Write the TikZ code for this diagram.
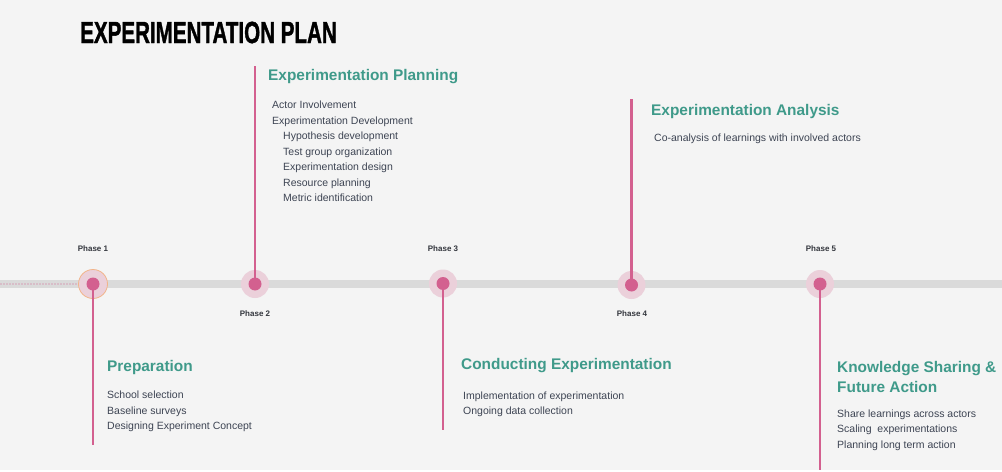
\documentclass[tikz,border=0pt]{standalone}
\usepackage{fontspec}
\setmainfont{Liberation Sans}
\newfontfamily\titlefont[UprightFont=* Bold,FakeBold=1.6]{Liberation Sans}
\usetikzlibrary{positioning}
\definecolor{bgcol}{HTML}{F4F4F4}
\definecolor{barcol}{HTML}{DADADA}
\definecolor{stemcol}{HTML}{D3608F}
\definecolor{halocol}{HTML}{EBD0DA}
\definecolor{ringcol}{HTML}{F2B48A}
\definecolor{headcol}{HTML}{3F9A8A}
\definecolor{txtcol}{HTML}{3D4453}
\definecolor{lblcol}{HTML}{33363D}

\begin{document}
\begin{tikzpicture}[x=1pt,y=-1pt,
        halo/.style={circle,fill=halocol,minimum size=28pt,inner sep=0pt},
        dot/.style={circle,fill=stemcol,minimum size=13pt,inner sep=0pt},
        stem/.style={draw=stemcol,line width=2.2pt},
        lead/.style={draw=stemcol,line width=1.4pt,line cap=round,dash pattern=on 0pt off 3pt},
        phase/.style={anchor=base,inner sep=0pt,text=lblcol,
            font=\fontsize{8}{9}\selectfont\bfseries},
        head/.style={anchor=base west,inner sep=0pt,text=headcol,align=left,
            font=\fontsize{15.4}{20}\selectfont\bfseries},
        body/.style={anchor=north west,inner sep=0pt,text=txtcol,align=left,
            font=\fontsize{10.5}{15.5}\selectfont}]
\fill[bgcol] (0,0) rectangle (1002,470);

\node[anchor=base west,inner sep=0pt,text=black] (title) at (80,43)
    {\scalebox{0.675}[1]{\fontsize{30.5}{31}\titlefont EXPERIMENTATION PLAN}};

% timeline
\fill[barcol] (0,280) rectangle (1002,288);

\node[halo,draw=ringcol,line width=0.8pt,minimum size=29pt] (h1) at (93,284) {};
\node[halo] (h2) at (255,284) {};
\node[halo] (h3) at (443,283.5) {};
\node[halo] (h4) at (631.5,285) {};
\node[halo] (h5) at (820,284) {};

\coordinate (s0) at (1,284);
\coordinate (e1) at (93,445);
\coordinate (e2) at (255,66);
\coordinate (e3) at (443,430);
\coordinate (e4) at (631.5,99);
\coordinate (e5) at (820,470);

\draw[lead] (s0) -- (h1.west);
\draw[stem] (h1.center) -- (e1);
\draw[stem] (h2.center) -- (e2);
\draw[stem] (h3.center) -- (e3);
\draw[stem] (h4.center) -- (e4);
\draw[stem] (h5.center) -- (e5);

\node[dot] (p1) at (h1) {};
\node[dot] (p2) at (h2) {};
\node[dot] (p3) at (h3) {};
\node[dot] (p4) at (h4) {};
\node[dot] (p5) at (h5) {};

\node[phase] (l1) at (93,251) {Phase 1};
\node[phase] (l2) at (255,316) {Phase 2};
\node[phase] (l3) at (443,251.5) {Phase 3};
\node[phase] (l4) at (632,316) {Phase 4};
\node[phase] (l5) at (821,251.5) {Phase 5};

% phase texts
\node[head] (prep) at (107,371) {Preparation};
\node[body] (preplist) at (107,390.7) {School selection\\Baseline surveys\\Designing Experiment Concept};

\node[head] (plan) at (268,80) {Experimentation Planning};
\node[body] (planlist) at (272,100.7) {Actor Involvement\\Experimentation Development\\
    \hspace*{11pt}Hypothesis development\\\hspace*{11pt}Test group organization\\
    \hspace*{11pt}Experimentation design\\\hspace*{11pt}Resource planning\\
    \hspace*{11pt}Metric identification};

\node[head] (cond) at (461,369) {Conducting Experimentation};
\node[body] (condlist) at (463,391.4) {Implementation of experimentation\\Ongoing data collection};

\node[head] (anal) at (651,115) {Experimentation Analysis};
\node[body,anchor=base west] (anallist) at (654,141.7) {Co-analysis of learnings with involved actors};

\node[head] (know) at (837,392) {Knowledge Sharing \&\\Future Action};
\node[body] (knowlist) at (837,409.4) {Share learnings across actors\\Scaling\ \ experimentations\\Planning long term action};
\end{tikzpicture}
\end{document}
